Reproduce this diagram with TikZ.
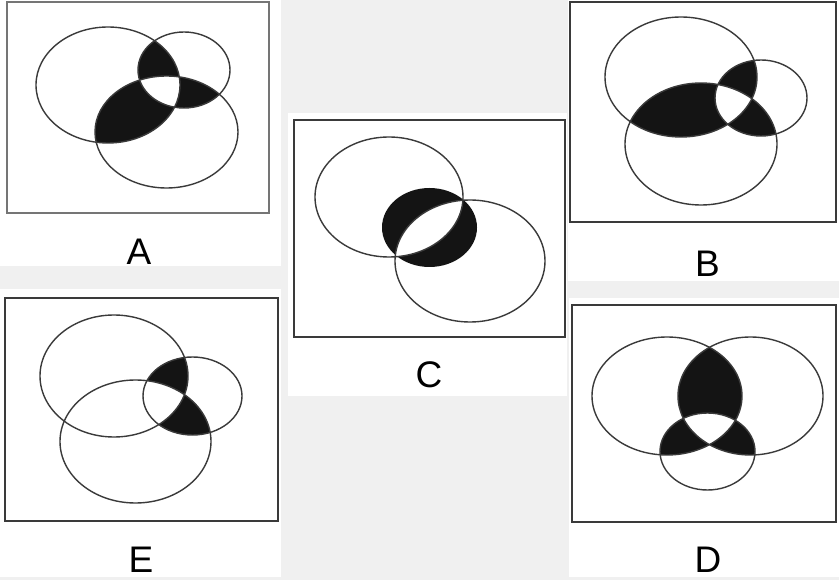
\documentclass[tikz,border=0pt]{standalone}
\usepackage{fontspec}
\setmainfont{Liberation Sans}
\definecolor{pagegray}{HTML}{F0F0F0}
\definecolor{inkgray}{HTML}{3A3A3A}

% black where exactly two of the three sets meet
\newcommand{\twoofthree}[3]{%
  \begin{scope}\clip #1; \fill[inkfill] #2;\end{scope}
  \begin{scope}\clip #1; \fill[inkfill] #3;\end{scope}
  \begin{scope}\clip #2; \fill[inkfill] #3;\end{scope}
  \begin{scope}\clip #1; \clip #2; \fill[white] #3;\end{scope}
  \draw[ring] #1; \draw[ring] #2; \draw[ring] #3;}

\begin{document}
\begin{tikzpicture}[x=1pt, y=-1pt,
    panel/.style={fill=white},
    frame/.style={draw=inkgray, line width=1.8pt},
    ring/.style={draw=inkgray, line width=1.4pt},
    inkfill/.style={fill=black!92},
    tag/.style={anchor=base, inner sep=0pt, font=\fontsize{37}{37}\selectfont}
]
\useasboundingbox (0,0) rectangle (839,580);
\fill[pagegray] (0,0) rectangle (839,580);

% white panels
\fill[panel] (0,0) rectangle (281,266);
\fill[panel] (288,113) rectangle (567,396);
\fill[panel] (568,0) rectangle (839,281);
\fill[panel] (0,289) rectangle (281,577);
\fill[panel] (569,298) rectangle (839,577);

% Panel A
\draw[frame, draw=inkgray!70] (7,2) rectangle (269,213);
\twoofthree{(108,85) ellipse [x radius=72, y radius=58]}
           {(184,70) ellipse [x radius=46, y radius=38]}
           {(166.5,132) ellipse [x radius=71.5, y radius=56]}
\node[tag] (labA) at (139,265) {A};

% Panel B
\draw[frame] (570,2) rectangle (836,222);
\twoofthree{(681,77) ellipse [x radius=76, y radius=60]}
           {(761,98) ellipse [x radius=46, y radius=38]}
           {(701,144) ellipse [x radius=76, y radius=61]}
\node[tag] (labB) at (707.5,277) {B};

% Panel C
\draw[frame] (294,120) rectangle (565,337);
\fill[inkfill] (429.5,227.5) ellipse [x radius=47.5, y radius=39.5];
\begin{scope}
  \clip (389,197) ellipse [x radius=74, y radius=60];
  \fill[white] (470,261) ellipse [x radius=75, y radius=61];
\end{scope}
\draw[ring] (389,197) ellipse [x radius=74, y radius=60];
\draw[ring] (470,261) ellipse [x radius=75, y radius=61];
\node[tag] (labC) at (429,388) {C};

% Panel E
\draw[frame] (5,298) rectangle (278,521);
\begin{scope}
  \clip (192.5,396) ellipse [x radius=49.5, y radius=39];
  \fill[inkfill] (114,376) ellipse [x radius=74, y radius=61];
  \fill[inkfill] (135.5,441.5) ellipse [x radius=75.5, y radius=61.5];
  \clip (114,376) ellipse [x radius=74, y radius=61];
  \fill[white] (135.5,441.5) ellipse [x radius=75.5, y radius=61.5];
\end{scope}
\draw[ring] (114,376) ellipse [x radius=74, y radius=61];
\draw[ring] (135.5,441.5) ellipse [x radius=75.5, y radius=61.5];
\draw[ring] (192.5,396) ellipse [x radius=49.5, y radius=39];
\node[tag] (labE) at (141,572) {E};

% Panel D
\draw[frame] (572,305) rectangle (836,522);
\twoofthree{(667,396) ellipse [x radius=75, y radius=59]}
           {(750.5,396) ellipse [x radius=72.5, y radius=59]}
           {(707.5,451.5) ellipse [x radius=47.5, y radius=38.5]}
\node[tag] (labD) at (708,572) {D};

\end{tikzpicture}
\end{document}
